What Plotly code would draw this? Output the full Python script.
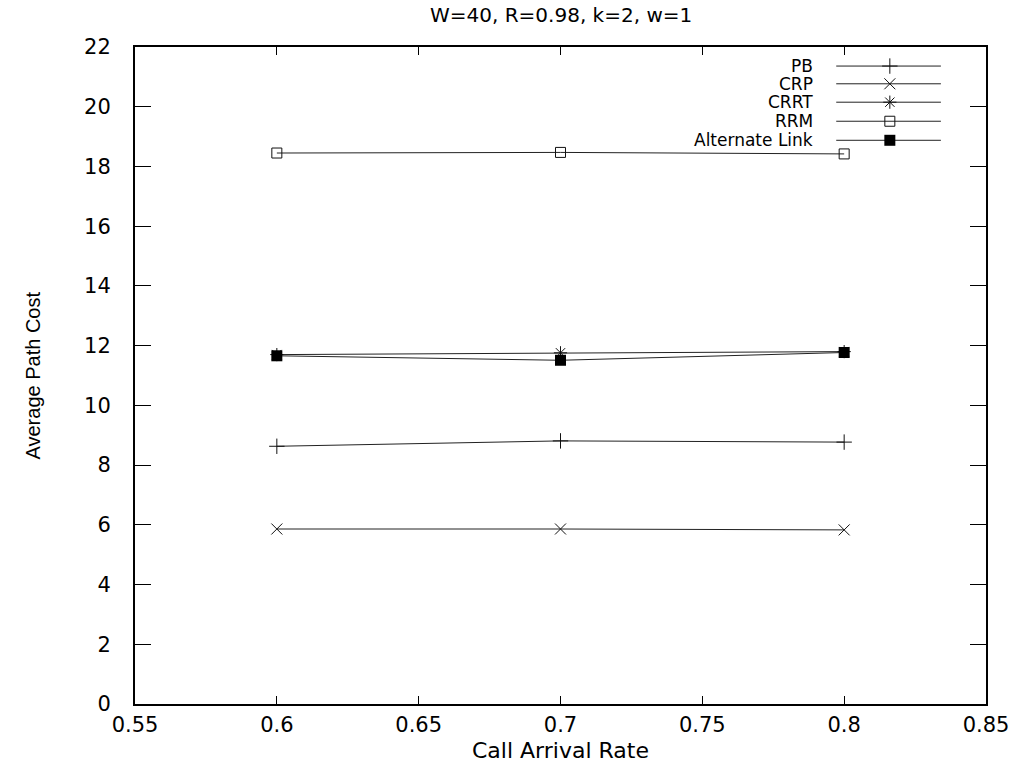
import plotly.graph_objects as go

# Call arrival rates and average path cost per routing scheme
rates = [0.6, 0.7, 0.8]
pb = [8.63, 8.81, 8.77]
crp = [5.86, 5.86, 5.83]
crrt = [11.70, 11.76, 11.80]
rrm = [18.45, 18.47, 18.42]
alt_link = [11.66, 11.51, 11.77]

x_ticks = [0.55, 0.6, 0.65, 0.7, 0.75, 0.8, 0.85]
y_ticks = list(range(0, 23, 2))

INK = "#111"
series = [
    ("PB", pb, dict(symbol="cross-thin-open", size=11, color=INK, line=dict(width=1, color=INK))),
    ("CRP", crp, dict(symbol="x-thin-open", size=11, color=INK, line=dict(width=1, color=INK))),
    ("CRRT", crrt, dict(symbol="asterisk-open", size=11, color=INK, line=dict(width=1, color=INK))),
    ("RRM", rrm, dict(symbol="square-open", size=10, color=INK, line=dict(width=1, color=INK))),
    ("Alternate Link", alt_link, dict(symbol="square", size=11, color="#000", line=dict(width=0))),
]

TXT = "DejaVu Sans"
line_style = dict(color="#222", width=1)

fig = go.Figure()
for name, vals, mk in series:
    fig.add_trace(go.Scatter(x=rates, y=vals, mode="lines+markers", name=name,
                             line=line_style, marker=mk, showlegend=False))

# Key drawn in the top-right corner: label, then a line sample with its marker
key_y = [0.971, 0.944, 0.916, 0.887, 0.858]
for (name, vals, mk), ky in zip(series, key_y):
    fig.add_trace(go.Scatter(x=[0.824, 0.947], y=[ky, ky], mode="lines",
                             line=line_style, xaxis="x2", yaxis="y2",
                             showlegend=False, hoverinfo="skip"))
    fig.add_trace(go.Scatter(x=[0.887], y=[ky], mode="markers", marker=mk,
                             xaxis="x2", yaxis="y2", showlegend=False, hoverinfo="skip"))
    fig.add_annotation(x=0.799, y=ky, xref="x2", yref="y2", text=name,
                       showarrow=False, xanchor="right", yanchor="middle",
                       font=dict(family=TXT, size=17, color="#000"))

axis_common = dict(showline=True, linecolor="#000", linewidth=2, mirror="allticks",
                   ticks="inside", tickcolor="#000", tickwidth=1.2,
                   showgrid=False, zeroline=False,
                   tickfont=dict(family=TXT, size=21, color="#000"))

fig.update_layout(
    width=1032, height=764,
    margin=dict(l=135, r=46, t=47, b=60),
    plot_bgcolor="#fff", paper_bgcolor="#fff",
    showlegend=False,
    xaxis=dict(range=[0.55, 0.85], tickvals=x_ticks,
               ticktext=[f"{v:g}" for v in x_ticks], ticklen=8,
               ticklabelstandoff=1, **axis_common),
    yaxis=dict(range=[0, 22], tickvals=y_ticks, ticklen=16,
               ticklabelstandoff=18, **axis_common),
    xaxis2=dict(overlaying="x", range=[0, 1], visible=False),
    yaxis2=dict(overlaying="y", range=[0, 1], visible=False),
)

fig.add_annotation(x=0.5, y=1, xref="paper", yref="paper", yshift=32, yanchor="middle",
                   text="W=40, R=0.98, k=2, w=1", showarrow=False,
                   font=dict(family=TXT, size=20, color="#000"))
fig.add_annotation(x=0.5, y=0, xref="paper", yref="paper", yshift=-46,
                   text="Call Arrival Rate", showarrow=False, yanchor="middle",
                   font=dict(family=TXT, size=22, color="#000"))
fig.add_annotation(x=0, y=0.5, xref="paper", yref="paper", xshift=-103,
                   text="Average Path Cost", showarrow=False, textangle=-90,
                   xanchor="center", yanchor="middle",
                   font=dict(family="Liberation Sans", size=20, color="#000"))

fig.write_html("out.html")
